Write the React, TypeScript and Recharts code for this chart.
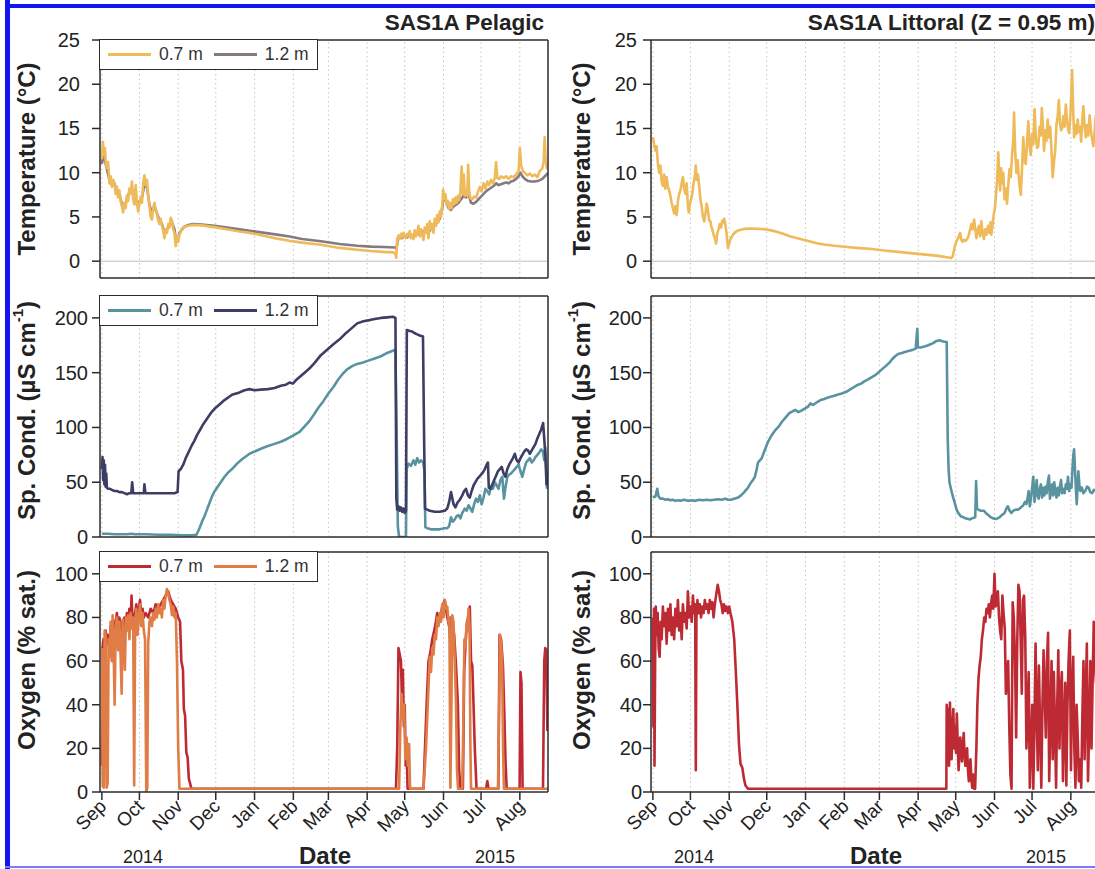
import React from 'react'
import { LineChart, Line, XAxis, YAxis, ReferenceLine, Legend } from 'recharts'

type Pt = [number, number]

// days since 1 Sep 2014
const monthTicks = [0, 30, 61, 91, 122, 153, 181, 212, 242, 273, 303, 334]
const monthLabels = ['Sep', 'Oct', 'Nov', 'Dec', 'Jan', 'Feb', 'Mar', 'Apr', 'May', 'Jun', 'Jul', 'Aug']
const yearLabels = ['2014', '2015']

const tempTicks = [0, 5, 10, 15, 20, 25]
const condTicks = [0, 50, 100, 150, 200]
const oxyTicks = [0, 20, 40, 60, 80, 100]

const tempPel07: Pt[] = [[0,11.5],[0.8,13.5],[1.6,12],[2.4,12.8],[3.2,11],[4,10.5],[5,11.2],[6,8.8],[7,9.6],[8,8.4],[9,9.2],[10,8.8],[11,7.6],[12,8.4],[13,7.2],[14,8],[15,6.8],[16,6.2],[17,5.5],[18,6.6],[19,6],[20,7.4],[21,6.8],[22,8.2],[23,7.6],[24,9],[25,7],[26,6.4],[27,8.6],[28,6.6],[29,5.6],[30,6.4],[31,7.2],[32,6.6],[33,8.8],[34,9.7],[35,8.6],[36,9.2],[37,7.4],[38,6.2],[39,5],[40,4.7],[41,6],[42,6.6],[43,5.8],[44,5.4],[45,4.6],[46,4.2],[47,4.8],[48,4],[49,3.4],[50,2.6],[51,3.6],[52,3.2],[53,4.2],[54,3.8],[55,4.9],[56,4.6],[57,3.6],[58,3.2],[59,1.7],[60,2.8],[61,2.2],[62,3],[63,3.4],[64,3.7],[66,3.9],[69,4.0],[73,4.1],[80,4.05],[90,3.85],[100,3.6],[110,3.35],[118,3.2],[130,2.85],[140,2.55],[150,2.3],[160,2.1],[175,1.85],[190,1.5],[204,1.3],[215,1.15],[225,1.05],[233,1.0],[234.5,0.8],[235.2,0.4],[236,2.4],[237,2.9],[238,2.5],[239,3.1],[240,2.7],[241,3.2],[242,2.8],[243,2.6],[244,3.1],[245,2.9],[246,3.4],[247,2.6],[248,3],[249,2.5],[250,3.5],[251,2.8],[252,3.2],[253,4],[254,2.8],[255,3.6],[256,3],[257,2.4],[258,3.8],[259,3.2],[260,4.2],[261,2.6],[262,4.5],[263,3.6],[264,4.2],[265,3.2],[266,4.8],[267,4],[268,5.2],[269,4.4],[270,5.6],[271,5],[272,6.4],[272.7,8.1],[273.5,7],[274.5,7.6],[275.5,6.4],[276.5,6.8],[277.5,5.9],[278.5,6.6],[279.5,6],[280.5,7],[281.5,6.4],[282.5,7.2],[283.5,6.6],[284.5,7.4],[285.5,6.9],[286.5,7.8],[287.5,10.7],[288.3,7.6],[289.2,9.8],[290,7.4],[291,8],[292,7.4],[292.7,10.9],[293.5,8],[294.5,7.1],[296,7],[297.5,7.3],[299,7.2],[300.5,7.8],[302,8.4],[303.5,7.9],[305,8.8],[306.5,8.2],[308,9],[309.5,8.6],[311,9.2],[312.5,8.8],[314,9.4],[315,11.2],[316,9.4],[317.5,9.3],[319,9.6],[321,9.4],[323,9.6],[325,9.3],[327,9.6],[329,9.5],[331,9.8],[333,10.2],[334,12.8],[335,10.8],[336.5,10.2],[338,10],[340,9.7],[342,9.9],[344,9.6],[346,9.8],[348,9.5],[350,10.2],[352,10.5],[353,11.2],[353.8,14],[354.6,11.5],[355.5,10.5],[356.5,11]]

const tempPel12: Pt[] = [[0,11],[1,12.5],[2,11.5],[3,11],[4,10.4],[6,9.2],[8,8.6],[10,8.8],[12,8],[14,7.6],[16,6.4],[18,6.2],[20,7],[22,7.8],[24,8.2],[26,6.8],[28,6.8],[30,6.6],[32,7.2],[34,8.6],[36,8.4],[38,6.4],[40,5.4],[42,6.2],[44,5.4],[46,4.6],[48,4.2],[50,3.2],[52,3.6],[54,4],[56,4.4],[58,3.6],[59.5,2.2],[61,2.6],[62,3.2],[64,3.6],[66,3.9],[69,4.1],[73,4.2],[80,4.15],[90,4.0],[100,3.8],[110,3.6],[118,3.45],[130,3.2],[140,3.0],[150,2.8],[160,2.5],[175,2.25],[190,1.95],[204,1.75],[215,1.65],[225,1.6],[234.5,1.55],[235.5,1.4],[236.5,2.6],[238,2.8],[240,2.6],[242,2.9],[244,2.7],[246,3],[248,2.8],[250,3],[252,3.2],[254,3],[256,3.4],[258,3.2],[260,3.6],[262,3.4],[264,3.8],[266,4],[268,4.4],[270,4.8],[272,6],[273,7.2],[275,6.8],[277,6],[279,5.8],[281,6.2],[283,6.4],[285,6.6],[287,7],[289,7.4],[291,7.2],[293,7.6],[295,6.6],[297,6.5],[299,6.7],[301,7],[303,7.3],[305,7.6],[307,7.9],[309,8.1],[311,8.3],[313,8.5],[315,8.8],[317,8.6],[319,8.7],[321,8.8],[323,8.9],[325,8.8],[327,9],[329,9.1],[331,9.3],[333,9.6],[334.5,10],[336,9.6],[338,9.3],[340,9.1],[343,9],[346,9],[349,9.1],[352,9.3],[354,9.6],[355.5,9.8],[356.5,10]]

const tempLit: Pt[] = [[0,14],[1,13.2],[2,12.5],[3,13],[4,11],[5,10],[6,10.8],[7,9],[8,8.5],[9,9.8],[10,8.2],[11,9.5],[12,8.4],[13,8],[14,7.4],[15,6.6],[16,6],[17,5.4],[18,6.2],[19,5.2],[20,6.8],[21,7.6],[22,8],[23,8.8],[24,9.5],[25,8.2],[26,7.6],[27,8.8],[28,6.2],[28.7,5.5],[29.5,6.4],[30.5,7],[31.5,7.6],[32.5,8.8],[33.5,9.6],[34.2,10.8],[35,9.2],[36,9.8],[37,8.5],[38,7],[39,6.2],[40,5],[41,4.5],[42,5.4],[43,6.5],[44,5.8],[45,4.6],[46,4.5],[46.5,4],[47.5,3.6],[48.5,3],[49.5,2.6],[50.5,2],[51.5,3.2],[52.5,3.6],[53.4,4.2],[54.5,3.8],[55.5,4.6],[56.5,4.4],[57,4.8],[58,4],[59,3],[60,1.5],[61,2],[62,2.5],[64,3],[66,3.3],[68.6,3.5],[73,3.65],[77,3.7],[85,3.65],[90,3.6],[97,3.4],[104,3.1],[110,2.8],[118,2.5],[125,2.25],[132,2.0],[138,1.85],[145,1.75],[155,1.6],[165,1.48],[173,1.4],[185,1.2],[200,1.0],[214,0.8],[228,0.6],[235,0.45],[238,0.35],[239.5,0.5],[241,1.5],[242.5,2.2],[244,2.6],[245.5,3.2],[246.5,2.4],[247.5,2.2],[248.5,2.4],[250,2.3],[251.5,2.6],[252.6,3],[253.5,3.6],[254.5,4.2],[255.5,3.6],[256.7,4.7],[257.5,3.8],[258.5,2.6],[259.5,3.4],[260.5,4],[261.5,2.8],[262.5,4.5],[263.5,3.2],[264.5,2.5],[265.5,3.6],[266.5,3],[267.8,4],[268.8,3.2],[269.8,4.4],[270.5,3],[271.5,4.2],[272.3,5.2],[273.3,6],[274.2,7.5],[275,9],[276,12.3],[276.8,9.5],[277.5,8],[278.3,10.5],[279.2,8.8],[280,10],[281,7],[282,8.2],[283,6.5],[284,8.6],[285,10.4],[286,9.5],[287,12],[288,13.6],[288.6,16.8],[289.5,12.5],[290.5,10],[291.5,11.4],[292.5,9.4],[293.3,8.2],[294,7.5],[295,10.5],[296,14],[297,11.2],[298,11],[299,13.4],[300,15.8],[301,13],[302,12],[303,14.4],[304,13.2],[305,17.2],[306,14],[307,12.8],[308,13],[309,15.2],[310,14.2],[310.8,17.3],[311.8,15],[312.6,12.5],[313.5,14.8],[314.5,13.6],[315.5,16],[316.5,14],[317.5,15.2],[318.5,12.6],[319.5,9.5],[320.5,11.2],[321.5,12.5],[322.5,15.4],[323.5,16.4],[324.4,18.2],[325.3,15.6],[326.2,14.8],[327,15],[328,16.4],[329,15.2],[330,17.7],[331,15.8],[332,14.8],[332.7,14.5],[333.5,16.2],[334.3,18.8],[335,21.6],[335.8,17.4],[336.6,14],[337.5,15.4],[338.5,14.4],[339.5,16],[340.5,14.6],[341.5,15.2],[342.2,13.5],[343,15.6],[344,17.5],[345,15.2],[346,14],[347,15.4],[348,14.2],[349,16.5],[350,14.8],[351,13.8],[352,13],[353,14.6],[354,16.5],[355,14],[356,13.6]]

const condPel07: Pt[] = [[0,3],[5,3],[10,2.5],[20,2.5],[24,3],[26,2.5],[35,2.5],[45,2],[55,2],[65,1.5],[72,1.5],[75.6,2],[78,8],[80,14],[82,19],[84,25],[86,31],[88,37],[89.7,41],[92,45],[95,50],[98,55],[101,59],[104,62],[108,67],[112,71],[118,76],[124,79],[128,81],[132.7,83],[138,85],[143,87],[147,89],[152,92],[158,96],[162,101],[166,106],[169.6,112],[173,118],[177,124],[181,131],[185,137],[189,144],[192.5,149],[196,153],[200,156],[204,158],[208,159],[213,161],[218,163],[223,165],[228,168],[232.5,170],[234.5,171],[235.5,100],[236.5,10],[237.5,0],[243,0],[243.5,62],[245,67],[247,65],[249,70],[250.5,66],[252,72],[253.5,68],[255,70],[256.8,68],[257.8,60],[258.5,9],[260,8],[263,7],[266,7],[270,7],[274,8],[276,8],[277.5,10],[279,18],[280.5,14],[282,16],[283.5,19],[285,20],[286.5,17],[288,22],[290,26],[291.5,24],[293,29],[294.5,26],[296,23],[297.5,30],[299,35],[300.5,32],[302,38],[303.5,30],[305,36],[306.5,44],[308,42],[309.5,39],[311,46],[312.5,44],[314,50],[315.5,47],[317,44],[318.5,52],[320,55],[321.3,35],[322.5,45],[324,55],[325.5,57],[327,58],[328.5,60],[330,62],[331.5,64],[333,66],[334.5,60],[336,55],[337.5,62],[339,68],[340.5,70],[342,72],[343.5,68],[345,70],[346.5,73],[348,75],[349.5,77],[351,80],[352.5,78],[353.5,70],[354.3,82],[355,65],[355.6,45],[356.5,60]]

const condPel12: Pt[] = [[0,62],[0.5,73],[1,52],[1.5,70],[2,48],[2.5,66],[3,46],[3.5,58],[4,45],[5,44],[6.5,44],[8,43],[10,42],[12,42],[14,41],[16,41],[18,40],[20,39],[22,40],[23.5,40],[24.2,50],[25,40],[28,40],[31,40],[33.5,40],[34,48],[34.8,40],[38,40],[42,40],[46,40],[50,40],[55,40],[58,40],[60.5,41],[61.3,60],[63,62],[65,66],[67,72],[69.9,79],[72,84],[74,88],[76,93],[78.4,97.7],[81,103],[84,108],[87,113],[90,117],[94,121],[98,125],[104,129.8],[110,132],[114,134],[118,135],[122,134],[127,134.5],[132.7,135],[138,136],[143,138],[147,139],[150,141],[152.6,140],[155,143],[158,146],[162,150],[166,154],[170,159],[175,166],[180,171],[185,176],[189.5,180],[194,185],[199,190],[204,195],[209,197],[214,198],[218,199],[223,200],[228,200.5],[232.5,201],[234.6,200],[235.3,35],[236,25],[237,28],[238,24],[239,27],[240,23],[241,26],[242,22],[243,24],[243.7,189],[246,188],[248,187.5],[250,186],[252,185],[254,184],[256.6,183],[257.4,100],[258.2,26],[260,25],[262,24],[266,23],[270,23],[274,24],[276,26],[277.5,32],[279,41],[281,30],[282.5,27],[284,31],[286,34],[288,38],[289.5,42],[291,44],[292.5,38],[294,36],[295.5,42],[297,47],[298.5,50],[300,53],[301.5,55],[303,57],[304.5,59],[306,62],[307.5,66],[308.5,68],[309.2,45],[310.5,44],[312,48],[313.5,52],[315,56],[316.5,60],[318,62],[319.5,64],[321,58],[322.5,55],[324,62],[325.5,66],[327,69],[328.5,72],[330,76],[331.5,70],[333,68],[334.5,72],[336,75],[337.5,78],[339,80],[340.5,79],[342,76],[343.5,79],[345,82],[346.5,85],[348,90],[349.5,94],[351,98],[352.6,104],[353.5,90],[354.5,72],[355.3,48],[356.5,58]]

const condLit: Pt[] = [[0,36],[2,37],[3.5,44],[4.5,37],[6,35],[8,35],[10,34],[12,34.5],[14,33.5],[16,34],[18,33],[20,33.5],[22,33],[25,34],[28,33],[31,33.5],[34,33],[37,34],[40,33.5],[43,34],[46,33.5],[49,34],[52,34.5],[55,34],[58,35],[60,34],[62.3,34],[65,35],[68,36],[70.5,38],[73,41],[76,45],[78,49],[80,52],[81.5,55],[83,62],[84,68],[85.5,70],[87,72],[89,78],[91,84],[92.5,88],[95,93],[97.5,97],[100.7,101],[103,105],[106,109],[109,113],[112,115],[114,116],[116,114],[118,115],[121,117],[124,119],[126,122],[128,120.5],[131,123],[134,125],[137,126],[139,127],[142,128],[145,129],[148,130],[151,131],[155.5,133],[158,135],[161,137],[164,139],[166.4,140],[169,142],[172,144],[175,146],[178,148],[180,150],[183,153],[186,156],[189,159],[191,162],[193.6,165],[196,167],[199,168],[202,169],[205,170],[208,171],[210,172],[211.3,190],[211.8,173],[214,173],[217,174],[220,175],[224,177],[226.6,179],[229,179.5],[232,178.5],[234.8,178],[235.6,90],[236.3,62],[237,50],[238,45],[239,40],[240,36],[241.5,30],[242.7,25],[244,22],[246,19],[248,18],[250,17],[252,16.5],[253.5,16],[255,17],[257.6,18],[258.3,51],[259,26],[260,25],[262,24],[264.4,24],[266,22],[268,20],[270,18],[272,17],[274,16.5],[275.5,17],[277,18],[279,20],[281,22],[282.5,26],[283.7,28],[285,24],[286.5,22],[288,24],[290,25],[292,25],[294,27],[296,29],[297.4,32],[298.5,30],[299.5,36],[300.3,42],[301.2,28],[302,34],[303,44],[304,55],[305,32],[305.8,40],[306.7,52],[307.5,38],[308.3,35],[309.2,44],[310.1,48],[311,36],[312,45],[312.9,38],[313.8,46],[314.7,40],[315.6,50],[316.5,56],[317.3,35],[318.2,42],[319,48],[319.9,38],[320.7,50],[321.6,42],[322.5,36],[323.5,45],[324.4,38],[325.3,46],[326.2,52],[327,40],[328,44],[329,40],[330,48],[330.8,44],[331.7,55],[332.6,42],[333.5,48],[334.5,45],[335.3,62],[336,75],[336.6,80],[337.3,62],[338,45],[338.7,30],[339.4,46],[340,60],[340.8,48],[341.6,42],[342.8,45],[344,40],[345.5,42],[347,46],[348.3,45],[349.5,41],[351,40],[352.5,43],[354.5,42],[356,41]]

const oxyPel07: Pt[] = [[0,12],[0.5,66],[1.3,70],[2,62],[3,74],[4,68],[5,72],[6,64],[7,76],[8,70],[9,79],[10,68],[11,77],[12,82],[13,70],[14,80],[15,74],[16,78],[17,72],[18,80],[19,76],[20,82],[21,78],[22,84],[23,76],[23.7,90],[24.5,78],[25.5,80],[26.5,82],[27.5,86],[28.5,78],[29.5,84],[30.5,88],[31.5,80],[32.5,84],[33.5,80],[35,82],[37,80],[39,84],[41,82],[43,86],[45,84],[47,86],[49,88],[51,90],[53,92],[55,88],[57,86],[59,84],[61,80],[62.5,78],[63.5,60],[64.8,56],[65.5,38],[66.5,35],[67.5,18],[68.5,16],[69.5,6],[70.5,4],[71.5,1.5],[235,1.5],[236,20],[237,66],[238,63],[239,60],[239.8,42],[240.5,56],[241.3,30],[242,40],[242.8,12],[243.5,20],[244.3,1.5],[257,1.5],[259.5,40],[261,60],[262.5,64],[264,70],[266,75],[268,82],[270,78],[272,85],[274,88],[276,80],[277.5,76],[278.3,70],[279,80],[280,78],[281.5,72],[283,58],[284.5,40],[285.5,10],[286.5,1.5],[288.5,1.5],[289.5,55],[291,72],[292.5,80],[294,85],[295,60],[296,58],[297,40],[298,20],[299.4,1.5],[307,1.5],[308,5],[309,1.5],[316.8,1.5],[317.8,72],[319,70],[320.5,58],[321.5,38],[322.5,15],[323.5,1.5],[333.8,1.5],[334.5,55],[335.3,50],[336.2,1.5],[352.5,1.5],[353.5,60],[354.3,66],[355.2,65],[356,28]]

const oxyPel12: Pt[] = [[0,66],[0.7,3],[1.5,2],[2.2,74],[3,72],[3.8,2],[4.6,4],[5.4,70],[6.2,62],[7,78],[7.8,60],[8.6,81],[9.4,65],[10.2,40],[11,75],[12,80],[13,65],[14,78],[15,62],[15.8,45],[16.6,79],[17.5,70],[18.4,56],[19.2,80],[20,74],[21,81],[22,70],[23,82],[24,75],[25,80],[25.8,3],[26.6,78],[27.5,84],[28.5,72],[29.5,80],[30.5,86],[31.5,76],[32.5,82],[33.5,74],[34.5,70],[35.5,0],[36.3,2],[37,68],[38,78],[39,80],[40,76],[41,82],[42,79],[43,84],[44,80],[45,86],[46,82],[47,84],[48,80],[49,88],[50,84],[51,90],[52,93],[53,91],[54,88],[55,86],[56,81],[57,85],[58,80],[59,82],[60,60],[61,20],[62,1.5],[237.5,1.5],[238.5,30],[239.5,45],[240.5,34],[241.5,40],[242.5,15],[243.5,25],[244.5,12],[245.5,22],[246.3,1.5],[257,1.5],[259,20],[261,48],[262,62],[263,55],[264,66],[265,63],[266,72],[267,70],[268,80],[269,76],[270,82],[271,78],[272,86],[273,80],[274,88],[275,84],[276,85],[277,78],[277.7,80],[278.5,2],[279.3,40],[280,81],[281,78],[282,60],[283,40],[283.8,10],[284.6,1.5],[288,1.5],[288.8,30],[289.7,70],[290.5,66],[291.5,78],[292.3,74],[293,84],[293.8,75],[294.5,20],[295,1.5],[316.5,1.5],[317.5,40],[318.2,72],[319,68],[319.8,60],[320.6,20],[321.3,1.5],[356.5,1.5]]

const oxyLit: Pt[] = [[0,80],[0.4,30],[0.9,84],[1.3,12],[1.8,60],[2.3,85],[3,72],[3.8,82],[4.6,66],[5.4,62],[6.2,78],[7,70],[8,85],[9,76],[10,82],[11,68],[12,84],[13,74],[14,86],[15,72],[16,80],[17,70],[18,84],[19,76],[20,88],[21,74],[22,82],[23,70],[24,86],[25,78],[26,82],[27,75],[28,92],[29,80],[30,85],[31,78],[32,90],[33,82],[33.8,86],[34.3,10],[34.8,80],[35.6,88],[36.5,82],[37.5,86],[38.5,80],[39.5,85],[40.5,82],[41.5,88],[42.5,84],[43.5,86],[44.5,82],[45.5,88],[46.5,84],[47.5,87],[48.5,80],[49.5,86],[50.5,90],[51.8,95],[52.8,92],[53.8,88],[54.8,86],[55.8,82],[56.8,86],[57.8,83],[58.8,85],[60,82],[61,85],[62,82],[63.5,78],[65,70],[66.3,55],[67.5,40],[68.8,22],[70,13],[71.5,11],[72.8,6],[74,3],[76,1.5],[234.5,1.5],[234.8,40],[235.5,30],[236.1,38],[236.7,12],[237.4,41],[238,25],[238.7,15],[239.4,30],[240.1,38],[240.8,20],[241.5,30],[242.2,18],[242.9,36],[243.6,22],[244.3,10],[245,18],[245.6,25],[246.3,20],[247,14],[247.7,22],[248.4,27],[249,18],[249.7,12],[250.4,16],[251.1,20],[251.8,10],[252.5,5],[253.1,12],[253.8,15],[254.5,6],[255.2,2],[255.9,8],[256.6,1.5],[257.5,1.5],[258.5,20],[259.3,40],[260.2,52],[261.1,58],[262,62],[262.9,70],[263.8,74],[264.8,80],[265.7,78],[266.6,84],[267.5,82],[268.4,86],[269.3,80],[270.2,86],[271.1,90],[272,84],[273,100],[273.9,85],[274.8,88],[275.7,92],[276.6,80],[277.5,74],[278.4,70],[279.3,90],[280.2,82],[281.2,75],[282.1,45],[283,52],[283.9,60],[284.8,30],[285.7,8],[286.6,1.5],[287.5,87],[288.4,80],[289.4,60],[290.3,25],[291.2,70],[292.1,95],[293,92],[293.9,70],[294.8,45],[295.7,88],[296.6,90],[297.6,70],[298.5,20],[299.4,35],[300.3,55],[301.2,2],[302.1,20],[303.1,40],[304,1.5],[304.9,30],[305.8,68],[306.7,35],[307.6,10],[308.5,58],[309.4,30],[310.4,2],[311.3,40],[312.2,65],[313.1,45],[314,25],[314.9,60],[315.8,73],[316.7,5],[317.6,30],[318.6,60],[319.5,15],[320.4,55],[321.3,30],[322.2,2],[323.1,40],[324,65],[324.9,20],[325.8,45],[326.8,55],[327.7,5],[328.6,30],[329.5,50],[330.4,3],[331.3,40],[332.2,60],[333.2,74],[334.1,10],[335,45],[335.9,62],[336.8,20],[337.7,2],[338.6,40],[339.5,25],[340.4,5],[341.4,15],[342.3,2],[343.2,35],[344.1,60],[345,15],[345.9,45],[346.8,68],[347.7,5],[348.7,30],[349.6,60],[350.5,20],[351.4,50],[352.3,78],[353.2,60],[354.1,50],[355,70],[356,40]]

const FONT = '"Liberation Sans", Arial, Helvetica, sans-serif'
const X_DOMAIN: [number, number] = [-1.5, 356.5]
const PLOT_W = 448
const AXIS = '#2b2b2b'

const C = {
  temp07: '#EFBA5A', temp12: '#857A80',
  cond07: '#5A93A0', cond12: '#3D3E65',
  oxy07: '#BE2A33', oxy12: '#E07C45',
}

type Series = { name: string; color: string; pts: Pt[] }

const toRows = (pts: Pt[]) => pts.map(([d, v]) => ({ d, v }))

function LegendBox({ series }: { series: Series[] }) {
  const items = [...series].sort((a, b) => a.name.localeCompare(b.name))
  return (
    <div style={{ display: 'flex', alignItems: 'center', height: 29, border: `1.5px solid ${AXIS}`, background: '#fff', padding: '0 8px', fontFamily: FONT, fontSize: 17.5, color: '#333', whiteSpace: 'nowrap' }}>
      {items.map((s, i) => (
        <React.Fragment key={s.name}>
          <span style={{ display: 'inline-block', width: 43, height: 3, background: s.color, marginRight: 8 }} />
          <span style={{ marginRight: i === 0 ? 11 : 0 }}>{s.name}</span>
        </React.Fragment>
      ))}
    </div>
  )
}

const YTick = (props: any) => {
  const { y, payload, endX } = props
  return (
    <text x={endX} y={y} textAnchor="end" dominantBaseline="central" fontSize={20} fill="#222" fontFamily={FONT}>
      {payload.value}
    </text>
  )
}

const MonthTick = (props: any) => {
  const { x, y, payload } = props
  const label = monthLabels[monthTicks.indexOf(payload.value)]
  const ax = x + 1
  const ay = y + 1
  return (
    <text x={ax} y={ay} transform={`rotate(-45 ${ax} ${ay})`} textAnchor="end" dominantBaseline="central" fontSize={19} fill="#222" fontFamily={FONT}>
      {label}
    </text>
  )
}

const DateLabel = (props: any) => {
  const { x, y } = props.viewBox
  return (
    <g fontFamily={FONT} fill="#222">
      <text x={x + 43} y={y + 65} textAnchor="middle" dominantBaseline="central" fontSize={18}>{yearLabels[0]}</text>
      <text x={x + 225} y={y + 63} textAnchor="middle" dominantBaseline="central" fontSize={24} fontWeight="bold">Date</text>
      <text x={x + 395} y={y + 65} textAnchor="middle" dominantBaseline="central" fontSize={18}>{yearLabels[1]}</text>
    </g>
  )
}

const TitleLabel = (props: any) => {
  const { x, y, width } = props.viewBox
  return (
    <text x={x + width - 4} y={y - 9} textAnchor="end" fontSize={22.5} fontWeight="bold" fill="#222" fontFamily={FONT}>
      {props.text}
    </text>
  )
}

const YTitle = (props: any) => {
  const { y, height } = props.viewBox
  const cx = props.cx
  const cy = y + height / 2 + (props.shift || 0)
  return (
    <text x={cx} y={cy} transform={`rotate(-90 ${cx} ${cy})`} textAnchor="middle" dominantBaseline="central" fontSize={24} fontWeight="bold" fill="#222" fontFamily={FONT}>
      {props.children}
    </text>
  )
}

type PanelProps = {
  left: number
  plotTop: number
  plotH: number
  mTop: number
  yDomain: [number, number]
  yTicks: number[]
  yTitle: React.ReactNode
  yTitleShift?: number
  titleX: number
  tickEnd: number
  series: Series[]
  legend?: boolean
  bottomAxis?: boolean
  zeroLine?: boolean
  title?: string
}

function Panel(p: PanelProps) {
  const axisH = p.bottomAxis ? 75 : 1
  const mBottom = p.bottomAxis ? 0 : 12
  const width = 100 + PLOT_W + 1 + 4
  const height = p.mTop + p.plotH + axisH + mBottom
  const boxLine = { stroke: AXIS, strokeWidth: 1.5 }
  return (
    <div style={{ position: 'absolute', left: p.left, top: p.plotTop - p.mTop }}>
      <LineChart width={width} height={height} margin={{ top: p.mTop - 1, right: 4, bottom: mBottom, left: 0 }}>
        <XAxis
          xAxisId="b" dataKey="d" type="number" domain={X_DOMAIN} allowDataOverflow ticks={monthTicks} interval={0}
          height={axisH} axisLine={boxLine} tickLine={p.bottomAxis ? boxLine : false} tickSize={8}
          tick={p.bottomAxis ? <MonthTick /> : false}
          label={p.bottomAxis ? <DateLabel /> : undefined}
        />
        <XAxis
          xAxisId="t" orientation="top" type="number" domain={X_DOMAIN} allowDataOverflow height={1}
          tick={false} tickLine={false} axisLine={boxLine}
          label={p.title ? <TitleLabel text={p.title} /> : undefined}
        />
        <YAxis
          yAxisId="l" type="number" domain={p.yDomain} allowDataOverflow ticks={p.yTicks} interval={0} width={100}
          axisLine={boxLine} tickLine={boxLine} tickSize={8} tick={<YTick endX={p.tickEnd} />}
          label={<YTitle cx={p.titleX} shift={p.yTitleShift}>{p.yTitle}</YTitle>}
        />
        <YAxis yAxisId="r" orientation="right" type="number" domain={[0, 1]} width={1} tick={false} tickLine={false} axisLine={boxLine} />
        {monthTicks.map((m) => (
          <ReferenceLine key={m} xAxisId="b" yAxisId="l" x={m} stroke="#c4c4c4" strokeDasharray="1.5 3" strokeWidth={1} />
        ))}
        {p.zeroLine && <ReferenceLine xAxisId="b" yAxisId="l" y={0} stroke="#bdbdbd" strokeWidth={1} />}
        {p.series.map((s) => (
          <Line
            key={s.name} xAxisId="b" yAxisId="l" data={toRows(s.pts)} dataKey="v" name={s.name}
            type="linear" stroke={s.color} strokeWidth={2.6} strokeLinejoin="round" dot={false} activeDot={false} isAnimationActive={false}
          />
        ))}
        {p.legend && (
          <Legend
            layout="vertical" align="center" verticalAlign="middle"
            wrapperStyle={{ left: 99, top: p.mTop - 0.75, width: 'auto', height: 'auto' }}
            content={() => <LegendBox series={p.series} />}
          />
        )}
      </LineChart>
    </div>
  )
}

const condTitle = (
  <>
    Sp. Cond. (µS cm<tspan dy={-9} fontSize={15}>-1</tspan><tspan dy={9}>)</tspan>
  </>
)

export default function App() {
  const cols = [
    { left: 0, titleX: 26, tempEnd: 80, otherEnd: 88, title: 'SAS1A Pelagic', pelagic: true },
    { left: 551, titleX: 30, tempEnd: 86, otherEnd: 91, title: 'SAS1A Littoral (Z = 0.95 m)', pelagic: false },
  ]
  return (
    <div style={{ position: 'absolute', left: 0, top: 0, width: 1095, height: 869, overflow: 'hidden', background: '#fff', fontFamily: FONT }}>
      {cols.map((c) => (
        <React.Fragment key={c.left}>
          <Panel
            left={c.left} plotTop={40} plotH={238} mTop={40} title={c.title}
            yDomain={[-1.9, 25]} yTicks={tempTicks} yTitle="Temperature (°C)" titleX={c.titleX} tickEnd={c.tempEnd}
            zeroLine legend={c.pelagic}
            series={c.pelagic
              ? [{ name: '1.2 m', color: C.temp12, pts: tempPel12 }, { name: '0.7 m', color: C.temp07, pts: tempPel07 }]
              : [{ name: '0.7 m', color: C.temp07, pts: tempLit }]}
          />
          <Panel
            left={c.left} plotTop={296} plotH={241} mTop={8}
            yDomain={[0, 220]} yTicks={condTicks} yTitle={condTitle} yTitleShift={-6} titleX={c.titleX} tickEnd={c.otherEnd}
            legend={c.pelagic}
            series={c.pelagic
              ? [{ name: '0.7 m', color: C.cond07, pts: condPel07 }, { name: '1.2 m', color: C.cond12, pts: condPel12 }]
              : [{ name: '0.7 m', color: C.cond07, pts: condLit }]}
          />
          <Panel
            left={c.left} plotTop={552} plotH={240} mTop={8} bottomAxis
            yDomain={[0, 110]} yTicks={oxyTicks} yTitle="Oxygen (% sat.)" yTitleShift={-12} titleX={c.titleX} tickEnd={c.otherEnd}
            legend={c.pelagic}
            series={c.pelagic
              ? [{ name: '0.7 m', color: C.oxy07, pts: oxyPel07 }, { name: '1.2 m', color: C.oxy12, pts: oxyPel12 }]
              : [{ name: '0.7 m', color: C.oxy07, pts: oxyLit }]}
          />
        </React.Fragment>
      ))}
      <div style={{ position: 'absolute', left: 5, top: 0, width: 5, height: 869, background: '#1414f5' }} />
      <div style={{ position: 'absolute', left: 5, top: 4, width: 1090, height: 4, background: '#1414f5' }} />
      <div style={{ position: 'absolute', left: 5, top: 866, width: 1090, height: 2, background: '#7a7aff' }} />
    </div>
  )
}
